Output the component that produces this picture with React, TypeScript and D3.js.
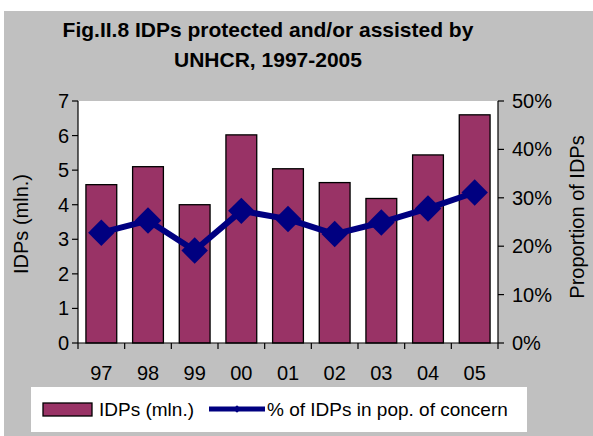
import * as d3 from 'd3';

const years = ['97', '98', '99', '00', '01', '02', '03', '04', '05'];
const idps = [4.58, 5.1, 4.0, 6.02, 5.04, 4.64, 4.18, 5.44, 6.6];
const share = [0.228, 0.253, 0.191, 0.273, 0.256, 0.225, 0.249, 0.278, 0.311];
const leftTicks = [0, 1, 2, 3, 4, 5, 6, 7];
const rightTicks = [0, 0.1, 0.2, 0.3, 0.4, 0.5];
const titleLines = ['Fig.II.8 IDPs protected and/or assisted by', 'UNHCR, 1997-2005'];

const W = 593;
const H = 436;
const BAR = '#993366';
const NAVY = '#000080';
const FONT = 'Arial, "Liberation Sans", sans-serif';

export default function App() {
  const plot = { left: 78, right: 498, top: 101, bottom: 343 };

  const x = d3
    .scaleBand<string>()
    .domain(years)
    .range([plot.left, plot.right])
    .paddingInner(0.34)
    .paddingOuter(0.17);
  const yL = d3.scaleLinear().domain([0, 7]).range([plot.bottom, plot.top]);
  const yR = d3.scaleLinear().domain([0, 0.5]).range([plot.bottom, plot.top]);

  const cx = (d: string) => (x(d) ?? 0) + x.bandwidth() / 2;
  const line = d3
    .line<number>()
    .x((_, i) => cx(years[i]))
    .y((v) => yR(v));

  // excel-style diamond = square turned 45deg
  const diamond = d3.symbol(d3.symbolSquare, 350)() ?? '';
  const smallDiamond = d3.symbol(d3.symbolSquare, 30)() ?? '';
  const step = x.step();
  const bounds = d3.range(years.length + 1).map((i) => plot.left + i * step);

  return (
    <div style={{ position: 'fixed', left: 0, top: 0 }}>
      <svg width={W} height={H} style={{ display: 'block' }} fontFamily={FONT}>
        <rect x={4} y={11} width={W - 4} height={H - 11} fill="#c0c0c0" />

        {titleLines.map((t, i) => (
          <text key={t} x={268} y={37 + i * 30} textAnchor="middle" fontSize={21} fontWeight="bold" fill="#000">
            {t}
          </text>
        ))}

        <rect x={plot.left} y={plot.top} width={plot.right - plot.left} height={plot.bottom - plot.top} fill="#fff" />

        {years.map((yr, i) => (
          <rect
            key={yr}
            x={x(yr)}
            y={yL(idps[i])}
            width={x.bandwidth()}
            height={plot.bottom - yL(idps[i])}
            fill={BAR}
            stroke="#000"
            strokeWidth={1.3}
          />
        ))}

        <path d={line(share) ?? ''} fill="none" stroke={NAVY} strokeWidth={6} strokeLinejoin="round" />
        {share.map((v, i) => (
          <path key={i} d={diamond} transform={`translate(${cx(years[i])},${yR(v)}) rotate(45)`} fill={NAVY} />
        ))}

        {/* axes */}
        <g stroke="#000" strokeWidth={1.2}>
          <line x1={plot.left} x2={plot.left} y1={plot.top} y2={plot.bottom} />
          <line x1={plot.right} x2={plot.right} y1={plot.top} y2={plot.bottom} />
          <line x1={plot.left} x2={plot.right} y1={plot.bottom} y2={plot.bottom} />
          {leftTicks.map((t) => (
            <line key={t} x1={plot.left - 6} x2={plot.left} y1={yL(t)} y2={yL(t)} />
          ))}
          {rightTicks.map((t) => (
            <line key={t} x1={plot.right} x2={plot.right + 6} y1={yR(t)} y2={yR(t)} />
          ))}
          {bounds.map((b, i) => (
            <line key={i} x1={b} x2={b} y1={plot.bottom} y2={plot.bottom + 6} />
          ))}
        </g>

        <g fontSize={20} fill="#000">
          {leftTicks.map((t) => (
            <text key={t} x={plot.left - 9} y={yL(t)} dy="0.35em" textAnchor="end">
              {t}
            </text>
          ))}
          {rightTicks.map((t) => (
            <text key={t} x={plot.right + 14} y={yR(t)} dy="0.35em" textAnchor="start">
              {d3.format('.0%')(t)}
            </text>
          ))}
          {years.map((yr) => (
            <text key={yr} x={cx(yr)} y={380} textAnchor="middle">
              {yr}
            </text>
          ))}
          <text transform={`translate(28,${(plot.top + plot.bottom) / 2 + 2}) rotate(-90)`} textAnchor="middle">
            IDPs (mln.)
          </text>
          <text transform={`translate(584,${(plot.top + plot.bottom) / 2 - 5}) rotate(-90)`} textAnchor="middle">
            Proportion of IDPs
          </text>
        </g>

        {/* legend */}
        <rect x={31} y={387} width={496} height={45} fill="#fff" />
        <rect x={43} y={403} width={49} height={13} fill={BAR} stroke="#000" strokeWidth={1.3} />
        <text x={99} y={416} fontSize={19}>
          IDPs (mln.)
        </text>
        <line x1={209} x2={265} y1={409} y2={409} stroke={NAVY} strokeWidth={5} />
        <path d={smallDiamond} transform="translate(237,409) rotate(45)" fill={NAVY} />
        <text x={267} y={416} fontSize={19}>
          % of IDPs in pop. of concern
        </text>
      </svg>
    </div>
  );
}
